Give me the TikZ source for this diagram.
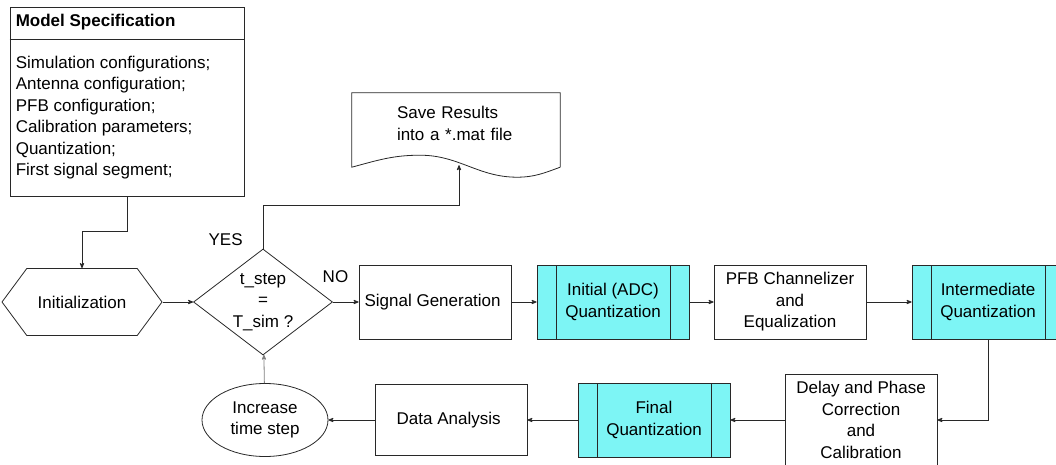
\documentclass[tikz,border=0pt]{standalone}
\usepackage{fontspec}
\setmainfont{Liberation Sans}
\usetikzlibrary{arrows,positioning,shapes.geometric,shapes.symbols}
\definecolor{quantcyan}{RGB}{125,245,245}
\definecolor{edgegray}{RGB}{40,40,40}
\tikzset{
>=stealth',
  procbox/.style={
    rectangle,
    % fill=black!10,
    draw=edgegray, thick,
    align=center,
    minimum width=152pt,
    minimum height=74pt,
    inner sep=0pt},
  quantbox/.style={
    procbox,
    fill=quantcyan,
    path picture={
      \draw[edgegray, thick] ([xshift=19pt]path picture bounding box.north west)
        -- ([xshift=19pt]path picture bounding box.south west);
      \draw[edgegray, thick] ([xshift=-19pt]path picture bounding box.north east)
        -- ([xshift=-19pt]path picture bounding box.south east);
    }},
  specbox/.style={
    rectangle,
    draw=edgegray, thick,
    minimum width=234pt,
    minimum height=189pt},
  initbox/.style={
    signal, signal to=west and east,
    signal pointer angle=107,
    draw=edgegray, thick,
    minimum width=160pt,
    minimum height=67pt,
    inner sep=0pt},
  decision/.style={
    diamond, aspect=1.3,
    draw=edgegray, thick,
    align=center,
    minimum width=139pt,
    minimum height=106pt,
    inner sep=0pt},
  stepbox/.style={
    ellipse,
    draw=edgegray, thick,
    align=center,
    minimum width=126pt,
    minimum height=73pt,
    inner sep=0pt},
  savebox/.style={
    rectangle,
    % outline drawn by hand (wavy bottom)
    draw=none,
    text width=118pt,
    align=left,
    minimum width=208pt,
    minimum height=61pt,
    inner sep=0pt},
  lbl/.style={inner sep=0pt},
  flow/.style={draw=edgegray, thick, ->},
}

\begin{document}
\begin{tikzpicture}
[font=\fontsize{17}{21.5}\selectfont]

\useasboundingbox (0,0) rectangle (1056pt,464pt);
\clip (0,0) rectangle (1056pt,464pt);

\node[specbox] (spec) at (127pt,362.5pt) {};
\draw[edgegray, thick] ([yshift=-33pt]spec.north west) -- ([yshift=-33pt]spec.north east);
\node[lbl, anchor=west, font=\fontsize{17}{21.5}\selectfont\bfseries] (spectitle)
  at ([xshift=6pt,yshift=-16pt]spec.north west) {
Model Specification
};
\node[lbl, anchor=north west, align=left] (speclist)
  at ([xshift=6pt,yshift=-49pt]spec.north west) {
Simulation configurations;\\
Antenna configuration;\\
PFB configuration;\\
Calibration parameters;\\
Quantization;\\
First signal segment;
};

\node[decision] (dec) at (263pt,162pt) {
t\_step\\ = \\T\_sim ?
};

\node[initbox, left of=dec, node distance=181pt] (init) {
Initialization
};

\node[procbox, right of=dec, node distance=172pt] (siggen) {
Signal Generation
};

\node[quantbox, right of=siggen, node distance=178pt] (adcq) {
Initial (ADC)\\ Quantization
};

\node[procbox, right of=adcq, node distance=177pt] (pfb) {
PFB Channelizer\\ and\\ Equalization
};

\node[quantbox, right of=pfb, node distance=198pt] (interq) {
Intermediate\\ Quantization
};

\node[stepbox, below of=dec, node distance=118pt, xshift=2pt] (incr) {
Increase\\ time step
};

\node[procbox, right of=incr, node distance=186pt, minimum height=71pt] (analysis) {
Data Analysis
};

\node[quantbox, right of=analysis, node distance=203pt] (finalq) {
Final\\ Quantization
};

\node[procbox, right of=finalq, node distance=207pt, minimum height=92pt] (delay) {
Delay and Phase\\ Correction\\ and\\ Calibration
};

\node[savebox] (save) at (456pt,340.5pt) {Save Results\\into a *.mat file};
\draw[edgegray, thick] ([yshift=-13pt]save.south east) -- (save.north east)
  -- (save.north west) -- ([yshift=-13pt]save.south west)
  to[out=15,in=180] ([xshift=-36pt,yshift=-1pt]save.south)
  to[out=0,in=180] ([xshift=61pt,yshift=-23pt]save.south)
  to[out=0,in=200] ([yshift=-13pt]save.south east);

\draw [flow] (spec.south) -- ++(0,-35pt) -| (init.north);
\draw [flow] (init.east) -- (dec.west);
\draw [flow] (dec.east) -- node[lbl, pos=0.1, above=19pt] {NO} (siggen.west);
\draw [flow] (dec.north)
  node[lbl, anchor=south east, xshift=-20pt, yshift=3pt] {YES}
  -- ++(0,43pt) -| ([xshift=3pt,yshift=-11pt]save.south);
\draw [flow] (siggen) -- (adcq);
\draw [flow] (adcq) -- (pfb);
\draw [flow] (pfb) -- (interq);
\draw [flow] (interq.south) |- (delay.east);
\draw [flow] (delay) -- (finalq);
\draw [flow] (finalq) -- (analysis);
\draw [flow] (analysis) -- (incr);
\draw [flow, draw=gray] (incr) -- (dec);

\end{tikzpicture}
\end{document}
